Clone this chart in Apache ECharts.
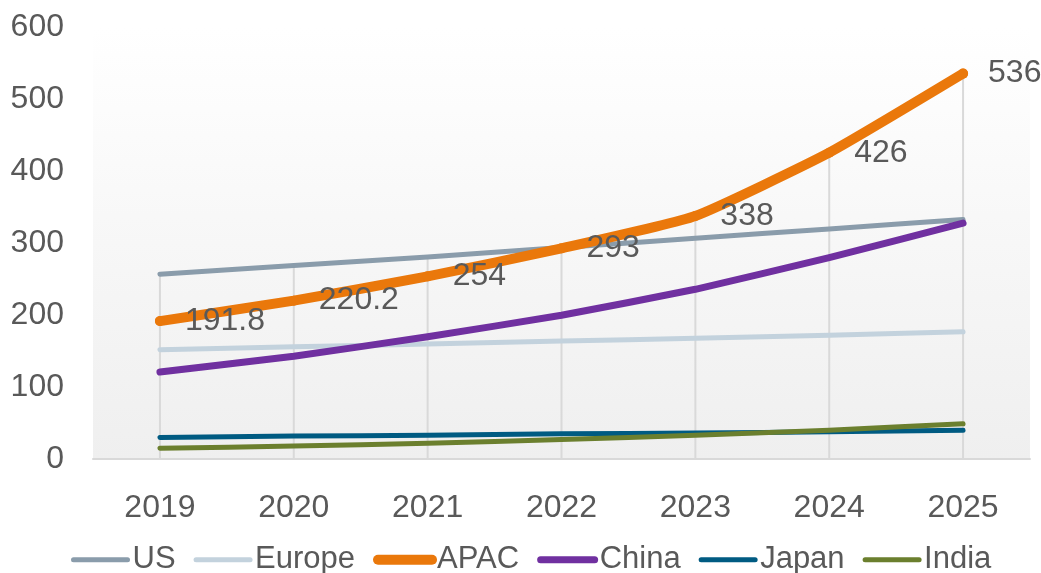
<!DOCTYPE html>
<style>
body {margin: 0;}
#div_echart {height: 573px; width: 1041px;}
</style>
<script src='https://cdn.jsdelivr.net/npm/echarts@6/dist/echarts.min.js'></script>
<div id='div_echart'></div>
<script>
let years = ['2019', '2020', '2021', '2022', '2023', '2024', '2025']
let us = [257, 269, 281, 294, 307, 320, 333]
let europe = [152, 156, 160, 164, 168, 172, 177]
let apac = [191.8, 220.2, 254, 293, 338, 426, 536]
let china = [121, 143, 170, 200, 236, 280, 328]
let japan = [30, 32, 33, 35, 36, 38, 40]
let india = [15, 18, 22, 27, 33, 40, 49]
let ticks = [0, 100, 200, 300, 400, 500, 600]

let text_color = '#595959'
let font = 'Liberation Sans, Arial, sans-serif'
// drop lines go from the highest point of each year down to the axis
let drop = years.map((y, i) => Math.max(us[i], europe[i], apac[i], china[i], japan[i], india[i]))

function line(name, data, color, width) {
	return {
		name, type: 'line', data, smooth: 0.15,
		symbol: 'circle', symbolSize: width, showSymbol: false,
		itemStyle: {color},
		lineStyle: {color, width, cap: 'round', join: 'round'},
		emphasis: {disabled: true},
		z: 3
	}
}

let series = [
	{type: 'bar', data: drop, barWidth: 2, itemStyle: {color: '#d9d9d9'}, silent: true, z: 1},
	line('US', us, '#8a9cab', 5),
	line('Europe', europe, '#c3d2dd', 5),
	Object.assign(line('APAC', apac, '#ea780b', 10), {
		showSymbol: true,
		label: {show: true, position: 'right', distance: 20, color: text_color, fontSize: 32, fontFamily: font}
	}),
	line('China', china, '#7030a0', 7),
	line('Japan', japan, '#005b82', 5),
	line('India', india, '#6b7f2e', 5)
]

let echart = echarts.init(document.getElementById('div_echart'))
echart.setOption({
	animation: false,
	grid: {
		left: 93, right: 11, top: 22, bottom: 114, show: true, borderWidth: 0,
		backgroundColor: new echarts.graphic.LinearGradient(0, 0, 0, 1, [
			{offset: 0, color: '#ffffff'}, {offset: 1, color: '#efefef'}
		])
	},
	legend: {
		data: ['US', 'Europe', 'APAC', 'China', 'Japan', 'India'],
		left: 66, top: 528, itemWidth: 54, itemHeight: 14, itemGap: 18,
		itemStyle: {opacity: 0},
		lineStyle: {width: 'inherit', cap: 'round'},
		textStyle: {color: text_color, fontSize: 31, fontFamily: font}
	},
	xAxis: {
		type: 'category', data: years,
		axisLine: {lineStyle: {color: '#d9d9d9', width: 2}},
		axisTick: {show: false},
		axisLabel: {color: text_color, fontSize: 32, fontFamily: font, margin: 22}
	},
	yAxis: {
		type: 'value', min: ticks[0], max: ticks[ticks.length - 1], interval: 100,
		splitLine: {show: false},
		axisLabel: {color: text_color, fontSize: 32, fontFamily: font, margin: 29}
	},
	series
})
</script>
